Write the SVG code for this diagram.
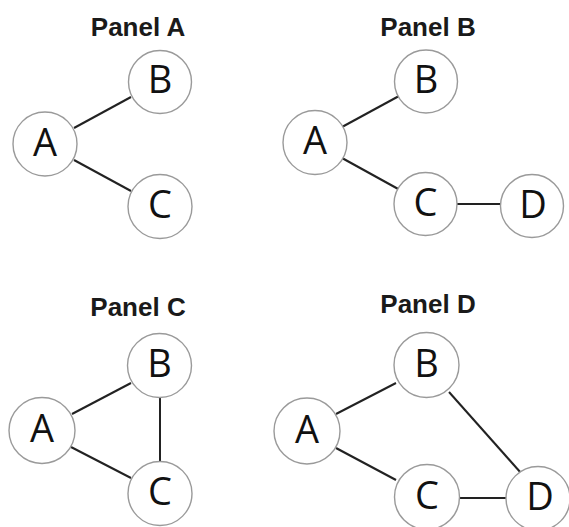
<svg xmlns="http://www.w3.org/2000/svg" width="569" height="527" viewBox="0 0 569 527">
<style>
.title{font-family:"Liberation Sans",Arial,sans-serif;font-weight:bold;font-size:26px;fill:#1a1a1a;text-anchor:middle}
.node circle{fill:#fff;stroke:#9a9a9a;stroke-width:1.4}
.node text{font-family:"Open Sans","DejaVu Sans",sans-serif;font-size:38px;fill:#111;text-anchor:middle}
.edges line{stroke:#222;stroke-width:2}
</style>
<rect width="569" height="527" fill="#fff"/>
<text class="title" x="138" y="36">Panel A</text>
<text class="title" x="428" y="36">Panel B</text>
<text class="title" x="138" y="316">Panel C</text>
<text class="title" x="428" y="313">Panel D</text>
<g id="edges" class="edges">
<line x1="74" y1="128" x2="131" y2="97"/>
<line x1="74" y1="160" x2="131" y2="191"/>
<line x1="342" y1="127" x2="399" y2="96"/>
<line x1="342" y1="158" x2="400" y2="190"/>
<line x1="457" y1="204" x2="501" y2="204"/>
<line x1="72" y1="414" x2="131" y2="383"/>
<line x1="71" y1="447" x2="131" y2="478"/>
<line x1="160" y1="397" x2="160" y2="463"/>
<line x1="336" y1="414" x2="396" y2="383"/>
<line x1="336" y1="448" x2="396" y2="480"/>
<line x1="449" y1="392" x2="521" y2="473"/>
<line x1="460" y1="498" x2="507" y2="498"/>
</g>
<g id="A1" class="node"><circle cx="45" cy="144" r="32"/><text x="45" y="155.5">A</text></g>
<g id="B1" class="node"><circle cx="160" cy="82" r="31.5"/><text x="160" y="93">B</text></g>
<g id="C1" class="node"><circle cx="160" cy="206.5" r="32"/><text x="160" y="218">C</text></g>
<g id="A2" class="node"><circle cx="315" cy="142.5" r="32"/><text x="315" y="154">A</text></g>
<g id="B2" class="node"><circle cx="426" cy="81.5" r="31.5"/><text x="426" y="92.5">B</text></g>
<g id="C2" class="node"><circle cx="425.5" cy="204" r="31.5"/><text x="425.5" y="215.5">C</text></g>
<g id="D2" class="node"><circle cx="532" cy="206" r="31.5"/><text x="533" y="217.5">D</text></g>
<g id="A3" class="node"><circle cx="42" cy="430.5" r="33"/><text x="42" y="442">A</text></g>
<g id="B3" class="node"><circle cx="159.5" cy="365.5" r="32"/><text x="159.5" y="376.5">B</text></g>
<g id="C3" class="node"><circle cx="160" cy="493.5" r="32"/><text x="160" y="505">C</text></g>
<g id="A4" class="node"><circle cx="307" cy="431" r="33"/><text x="307" y="442.5">A</text></g>
<g id="B4" class="node"><circle cx="426.5" cy="365" r="32.5"/><text x="426.5" y="376.5">B</text></g>
<g id="C4" class="node"><circle cx="427" cy="497" r="32.5"/><text x="427" y="508.5">C</text></g>
<g id="D4" class="node"><circle cx="538" cy="498.5" r="32"/><text x="540" y="510">D</text></g>
</svg>
